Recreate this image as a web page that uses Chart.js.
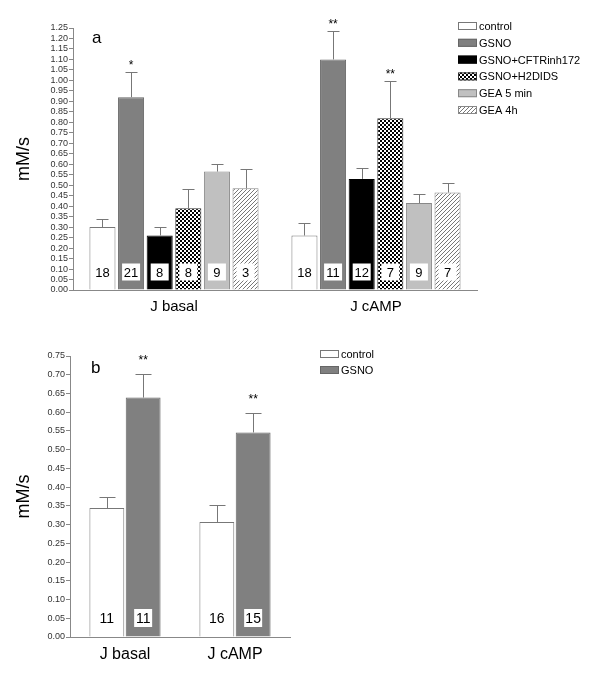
<!DOCTYPE html>
<html>
<head>
<meta charset="utf-8">
<script src="https://cdn.jsdelivr.net/npm/chart.js@4"></script>
<style>
  body { margin: 0; background: #fff; }
  #wrapA { position: absolute; left: 0; top: 0; width: 600px; height: 320px; }
  #wrapB { position: absolute; left: 0; top: 340px; width: 600px; height: 335px; }
</style>
</head>
<body>
<div id="wrapA"><canvas id="chartA"></canvas></div>
<div id="wrapB"><canvas id="chartB"></canvas></div>
<script>
// panel a
const categoriesA = ['J basal', 'J cAMP'];
const controlA = [0.30, 0.26];
const gsnoA = [0.92, 1.10];
const cftrA = [0.26, 0.53];
const h2didsA = [0.39, 0.82];
const gea5A = [0.565, 0.415];
const gea4A = [0.485, 0.465];
const controlErrA = [0.04, 0.06];
const gsnoErrA = [0.12, 0.135];
const cftrErrA = [0.04, 0.05];
const h2didsErrA = [0.09, 0.175];
const gea5ErrA = [0.035, 0.045];
const gea4ErrA = [0.09, 0.045];
const controlNA = [18, 18];
const gsnoNA = [21, 11];
const cftrNA = [8, 12];
const h2didsNA = [8, 7];
const gea5NA = [9, 9];
const gea4NA = [3, 7];
const gsnoStarsA = ['*', '**'];
const h2didsStarsA = ['', '**'];
const ticksA = { min: 0, max: 1.25, step: 0.05 };

// panel b
const categoriesB = ['J basal', 'J cAMP'];
const controlB = [0.344, 0.307];
const gsnoB = [0.639, 0.546];
const controlErrB = [0.029, 0.045];
const gsnoErrB = [0.064, 0.051];
const controlNB = [11, 16];
const gsnoNB = [11, 15];
const gsnoStarsB = ['**', '**'];
const ticksB = { min: 0, max: 0.75, step: 0.05 };

const FONT = "'Liberation Sans', Arial, sans-serif";

function checkerPattern() {
  const c = document.createElement('canvas');
  c.width = 4; c.height = 4;
  const g = c.getContext('2d');
  g.fillStyle = '#fff';
  g.fillRect(0, 0, 4, 4);
  g.fillStyle = '#000';
  g.fillRect(0, 0, 2, 2);
  g.fillRect(2, 2, 2, 2);
  return g.createPattern(c, 'repeat');
}

function hatchPattern() {
  const c = document.createElement('canvas');
  c.width = 4; c.height = 4;
  const g = c.getContext('2d');
  g.fillStyle = '#fff';
  g.fillRect(0, 0, 4, 4);
  g.strokeStyle = '#777';
  g.lineWidth = 1;
  g.beginPath();
  g.moveTo(-1, 5); g.lineTo(5, -1);
  g.moveTo(-1, 1); g.lineTo(1, -1);
  g.moveTo(3, 5); g.lineTo(5, 3);
  g.stroke();
  return g.createPattern(c, 'repeat');
}

// error bars, n labels, stars, panel letter and legend
const extrasPlugin = {
  id: 'extras',
  afterDatasetsDraw(chart, args, opts) {
    const ctx = chart.ctx;
    const y = chart.scales.y;
    const area = chart.chartArea;
    ctx.save();
    chart.data.datasets.forEach((ds, di) => {
      const meta = chart.getDatasetMeta(di);
      meta.data.forEach((bar, i) => {
        const topV = ds.data[i] + ds.errors[i];
        const yTop = y.getPixelForValue(topV);
        const x = Math.round(bar.x) + 0.5;
        ctx.strokeStyle = '#777';
        ctx.lineWidth = 1;
        ctx.beginPath();
        ctx.moveTo(x, bar.y);
        ctx.lineTo(x, Math.round(yTop) + 0.5);
        ctx.moveTo(x - opts.capW / 2, Math.round(yTop) + 0.5);
        ctx.lineTo(x + opts.capW / 2, Math.round(yTop) + 0.5);
        ctx.stroke();

        if (ds.stars && ds.stars[i]) {
          ctx.fillStyle = '#000';
          ctx.font = '12px ' + FONT;
          ctx.textAlign = 'center';
          ctx.textBaseline = 'alphabetic';
          ctx.fillText(ds.stars[i], bar.x, yTop - opts.starGap);
        }

        const cy = area.bottom - opts.nOffset;
        ctx.fillStyle = '#fff';
        ctx.fillRect(bar.x - opts.boxW / 2, cy - opts.boxH / 2, opts.boxW, opts.boxH);
        ctx.fillStyle = '#000';
        ctx.font = opts.nFont + 'px ' + FONT;
        ctx.textAlign = 'center';
        ctx.textBaseline = 'middle';
        ctx.fillText(String(ds.counts[i]), bar.x, cy + 1);
      });
    });

    ctx.fillStyle = '#000';
    ctx.font = '17px ' + FONT;
    ctx.textAlign = 'left';
    ctx.textBaseline = 'middle';
    ctx.fillText(opts.letter, opts.letterX, opts.letterY);

    chart.data.datasets.forEach((ds, di) => {
      const ly = opts.legendY + di * opts.legendStep;
      ctx.fillStyle = ds.backgroundColor;
      ctx.fillRect(opts.legendX, ly - 4, 19, 8);
      ctx.strokeStyle = ds.borderColor;
      ctx.lineWidth = 1;
      ctx.strokeRect(opts.legendX + 0.5, ly - 3.5, 18, 7);
      ctx.fillStyle = '#000';
      ctx.font = '11px ' + FONT;
      ctx.textAlign = 'left';
      ctx.textBaseline = 'middle';
      ctx.fillText(ds.label, opts.legendX + 21, ly + 1);
    });
    ctx.restore();
  }
};

function makeScales(t, yWidth, xFont) {
  return {
    x: {
      grid: { display: false },
      border: { display: true, color: '#888' },
      ticks: { color: '#000', font: { family: FONT, size: xFont }, padding: 0 },
      afterFit(s) { s.height = 30; }
    },
    y: {
      min: t.min,
      max: t.max,
      grid: { display: true, drawOnChartArea: false, drawTicks: true, tickLength: 4, color: '#888' },
      border: { display: true, color: '#888' },
      ticks: {
        stepSize: t.step,
        autoSkip: false,
        color: '#333',
        padding: 1,
        font: { family: FONT, size: 9 },
        callback: v => Number(v).toFixed(2)
      },
      title: { display: true, text: 'mM/s', color: '#000', font: { family: FONT, size: 18 }, padding: { top: 13, bottom: 0 } },
      afterFit(s) { s.width = yWidth; }
    }
  };
}

new Chart(document.getElementById('chartA'), {
  type: 'bar',
  data: {
    labels: categoriesA,
    datasets: [
      { label: 'control', data: controlA, errors: controlErrA, counts: controlNA, backgroundColor: '#fff', borderColor: '#777' },
      { label: 'GSNO', data: gsnoA, errors: gsnoErrA, counts: gsnoNA, stars: gsnoStarsA, backgroundColor: '#808080', borderColor: '#666' },
      { label: 'GSNO+CFTRinh172', data: cftrA, errors: cftrErrA, counts: cftrNA, backgroundColor: '#000', borderColor: '#000' },
      { label: 'GSNO+H2DIDS', data: h2didsA, errors: h2didsErrA, counts: h2didsNA, stars: h2didsStarsA, backgroundColor: checkerPattern(), borderColor: '#333' },
      { label: 'GEA 5 min', data: gea5A, errors: gea5ErrA, counts: gea5NA, backgroundColor: '#c0c0c0', borderColor: '#888' },
      { label: 'GEA 4h', data: gea4A, errors: gea4ErrA, counts: gea4NA, backgroundColor: hatchPattern(), borderColor: '#888' }
    ].map(d => Object.assign(d, { borderWidth: 1, categoryPercentage: 0.85, barPercentage: 0.91 }))
  },
  options: {
    responsive: true,
    maintainAspectRatio: false,
    animation: false,
    layout: { padding: { left: 0, right: 123, top: 28, bottom: 0 } },
    plugins: {
      legend: { display: false },
      tooltip: { enabled: false },
      extras: {
        capW: 12, starGap: 3, nOffset: 18, boxW: 18, boxH: 17, nFont: 13,
        letter: 'a', letterX: 92, letterY: 38,
        legendX: 458, legendY: 26, legendStep: 16.8
      }
    },
    scales: makeScales(ticksA, 73, 15)
  },
  plugins: [extrasPlugin]
});

new Chart(document.getElementById('chartB'), {
  type: 'bar',
  data: {
    labels: categoriesB,
    datasets: [
      { label: 'control', data: controlB, errors: controlErrB, counts: controlNB, backgroundColor: '#fff', borderColor: '#777' },
      { label: 'GSNO', data: gsnoB, errors: gsnoErrB, counts: gsnoNB, stars: gsnoStarsB, backgroundColor: '#808080', borderColor: '#666' }
    ].map(d => Object.assign(d, { borderWidth: 1, categoryPercentage: 0.66, barPercentage: 0.96 }))
  },
  options: {
    responsive: true,
    maintainAspectRatio: false,
    animation: false,
    layout: { padding: { left: 0, right: 310, top: 16, bottom: 8 } },
    plugins: {
      legend: { display: false },
      tooltip: { enabled: false },
      extras: {
        capW: 16, starGap: 10, nOffset: 19, boxW: 18, boxH: 18, nFont: 14,
        letter: 'b', letterX: 91, letterY: 28,
        legendX: 320, legendY: 14, legendStep: 16
      }
    },
    scales: makeScales(ticksB, 70, 16)
  },
  plugins: [extrasPlugin]
});
</script>
</body>
</html>
